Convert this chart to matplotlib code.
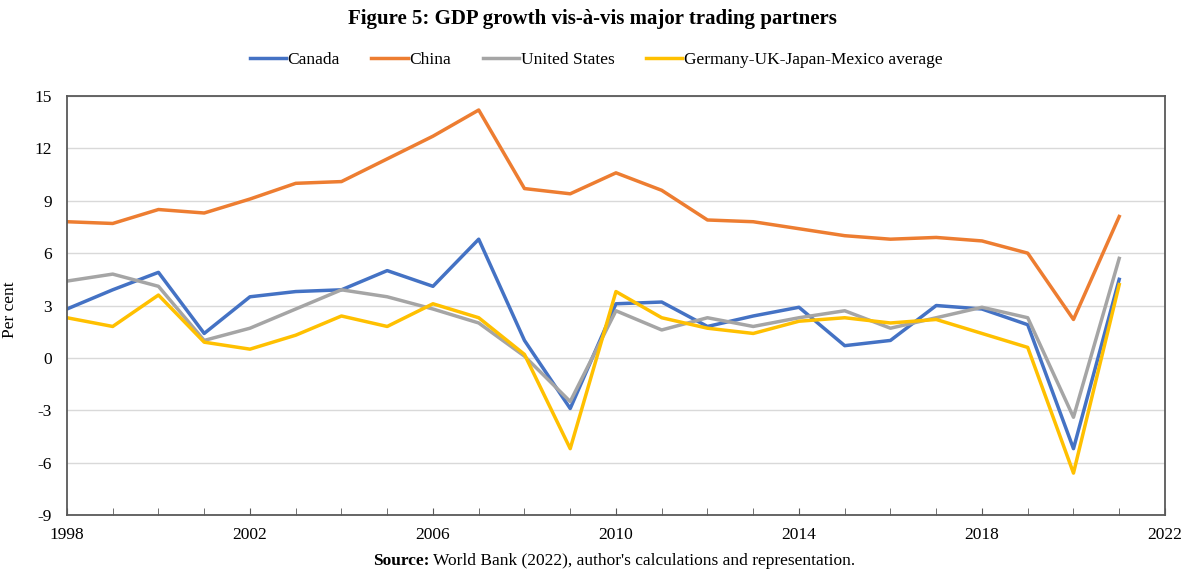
import matplotlib
matplotlib.use("Agg")
import matplotlib.pyplot as plt
from matplotlib.ticker import MultipleLocator, FixedLocator

plt.rcParams['font.family'] = ['Liberation Serif', 'DejaVu Serif']
plt.rcParams['axes.unicode_minus'] = False

years = list(range(1998, 2022))

canada = [2.8, 3.9, 4.9, 1.4, 3.5, 3.8, 3.9, 5.0, 4.1, 6.8, 1.0, -2.9,
          3.1, 3.2, 1.8, 2.4, 2.9, 0.7, 1.0, 3.0, 2.8, 1.9, -5.2, 4.5]
china = [7.8, 7.7, 8.5, 8.3, 9.1, 10.0, 10.1, 11.4, 12.7, 14.2, 9.7, 9.4,
         10.6, 9.6, 7.9, 7.8, 7.4, 7.0, 6.8, 6.9, 6.7, 6.0, 2.2, 8.1]
us = [4.4, 4.8, 4.1, 1.0, 1.7, 2.8, 3.9, 3.5, 2.8, 2.0, 0.1, -2.5,
      2.7, 1.6, 2.3, 1.8, 2.3, 2.7, 1.7, 2.3, 2.9, 2.3, -3.4, 5.7]
others = [2.3, 1.8, 3.6, 0.9, 0.5, 1.3, 2.4, 1.8, 3.1, 2.3, 0.2, -5.2,
          3.8, 2.3, 1.7, 1.4, 2.1, 2.3, 2.0, 2.2, 1.4, 0.6, -6.6, 4.2]

series = [
    ("Canada", canada, "#4472C4"),
    ("China", china, "#ED7D31"),
    ("United States", us, "#A5A5A5"),
    ("Germany-UK-Japan-Mexico average", others, "#FFC000"),
]

fig = plt.figure(figsize=(11.85, 5.7), dpi=100)
ax = fig.add_axes([0.0565, 0.0965, 0.9266, 0.735])

for name, vals, col in series:
    ax.plot(years, vals, color=col, lw=2.5, label=name)

ax.set_xlim(1998, 2022)
ax.set_ylim(-9, 15)
ax.yaxis.set_major_locator(MultipleLocator(3))
ax.xaxis.set_major_locator(FixedLocator(range(1998, 2023, 4)))
ax.xaxis.set_minor_locator(MultipleLocator(1))
ax.grid(axis='y', color='#D9D9D9', lw=1)
ax.set_axisbelow(True)

for s in ax.spines.values():
    s.set_color('#595959')
    s.set_linewidth(1.3)

ax.tick_params(axis='y', length=0, labelsize=12.5, pad=11)
ax.tick_params(axis='x', which='both', direction='in', length=5, color='#595959',
               labelsize=12.5, pad=9)
ax.set_ylabel("Per cent", fontsize=12.5)
ax.yaxis.set_label_coords(-0.0446, 0.49)

fig.text(0.5, 0.967, "Figure 5: GDP growth vis-à-vis major trading partners",
         ha='center', va='center', fontsize=15, fontweight='bold')

ax.legend(loc='center', bbox_to_anchor=(0.503, 0.895), bbox_transform=fig.transFigure,
          ncol=4, frameon=False, fontsize=12.5, handlelength=2.1, handletextpad=0.1,
          columnspacing=1.8)

# source line: bold label followed by normal text, centred under the plot area
src_b = "Source:"
src_r = " World Bank (2022), author's calculations and representation."
t1 = fig.text(0, 0.016, src_b, ha='left', va='center', fontsize=12.5, fontweight='bold')
t2 = fig.text(0, 0.016, src_r, ha='left', va='center', fontsize=12.5)
fig.canvas.draw()
r = fig.canvas.get_renderer()
w1 = t1.get_window_extent(r).width
w2 = t2.get_window_extent(r).width
x0 = 0.518 * fig.bbox.width - (w1 + w2) / 2
t1.set_x(x0 / fig.bbox.width)
t2.set_x((x0 + w1) / fig.bbox.width)

fig.savefig("out.png", dpi=100)
